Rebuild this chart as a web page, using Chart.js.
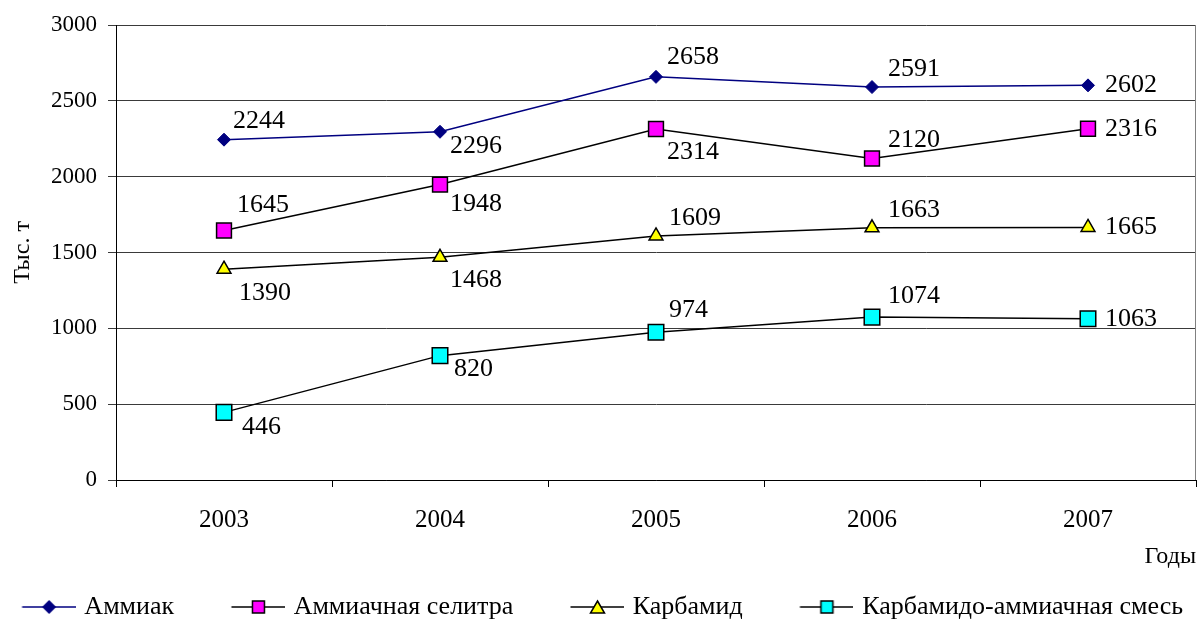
<!DOCTYPE html>
<html>
<head>
<meta charset="utf-8">
<script src="https://cdn.jsdelivr.net/npm/chart.js@4.4.1/dist/chart.umd.min.js"></script>
<style>
  html, body { margin: 0; padding: 0; background: #fff; overflow: hidden; }
  #wrap { width: 1200px; height: 619px; position: relative; }
</style>
</head>
<body>
<div id="wrap"><canvas id="myChart"></canvas></div>
<script>
// chart data
const years = ['2003', '2004', '2005', '2006', '2007'];
const ammonia = [2244, 2296, 2658, 2591, 2602];
const ammoniumNitrate = [1645, 1948, 2314, 2120, 2316];
const urea = [1390, 1468, 1609, 1663, 1665];
const uan = [446, 820, 974, 1074, 1063];
const seriesNames = ['Аммиак', 'Аммиачная селитра', 'Карбамид', 'Карбамидо-аммиачная смесь'];
const yTicks = [0, 500, 1000, 1500, 2000, 2500, 3000];

// where each value label sits relative to its point (dx, dy)
const labelOffsets = [
    [[9, -18], [10, 14], [11, -20], [16, -18], [17, 0]],
    [[13, -25], [10, 20], [11, 23], [16, -18], [17, 0]],
    [[15, 24], [10, 23], [13, -18], [16, -18], [17, 0]],
    [[18, 15], [14, 14], [13, -22], [16, -21], [17, 0]],
];

const FONT = '"Liberation Serif", "Times New Roman", serif';
const LEG_FONT = 26;
const LEG_GAP = 51.5;  // empty room on the left of each legend icon
const LEG_PAD = 10;
const LEFT_SHIFT = 38; // legend box is widened to the left by this much

// small line+marker picture for the legend
const legendIcon = (kind, fill, stroke, lineColor) => {
    const c = document.createElement('canvas');
    c.width = LEG_GAP + 54;
    c.height = 20;
    const ctx = c.getContext('2d');
    ctx.strokeStyle = lineColor;
    ctx.lineWidth = 1.5;
    ctx.beginPath();
    ctx.moveTo(LEG_GAP, 10);
    ctx.lineTo(LEG_GAP + 54, 10);
    ctx.stroke();
    const cx = LEG_GAP + 27, cy = 10;
    ctx.fillStyle = fill;
    ctx.strokeStyle = stroke;
    ctx.beginPath();
    if (kind === 'diamond') {
        ctx.moveTo(cx - 6, cy); ctx.lineTo(cx, cy - 6); ctx.lineTo(cx + 6, cy); ctx.lineTo(cx, cy + 6);
    } else if (kind === 'triangle') {
        ctx.moveTo(cx, cy - 6); ctx.lineTo(cx + 7, cy + 6); ctx.lineTo(cx - 7, cy + 6);
    } else {
        ctx.rect(cx - 6, cy - 6, 12, 12);
    }
    ctx.closePath();
    ctx.fill();
    ctx.stroke();
    return c;
};

const icons = [
    legendIcon('diamond', '#000080', '#000080', '#000080'),
    legendIcon('square', '#FF00FF', '#000', '#000'),
    legendIcon('triangle', '#FFFF00', '#000', '#000'),
    legendIcon('square', '#00FFFF', '#000', '#000'),
];

// value labels next to the points
const valueLabels = {
    id: 'valueLabels',
    afterDatasetsDraw(chart) {
        const ctx = chart.ctx;
        ctx.save();
        ctx.font = '26px ' + FONT;
        ctx.fillStyle = '#000';
        ctx.textAlign = 'left';
        ctx.textBaseline = 'middle';
        chart.data.datasets.forEach((ds, i) => {
            chart.getDatasetMeta(i).data.forEach((pt, j) => {
                const [dx, dy] = labelOffsets[i][j];
                ctx.fillText(String(ds.data[j]), pt.x + dx, pt.y + dy);
            });
        });
        ctx.restore();
    }
};

// thin frame line on the right side of the plot
const rightEdge = {
    id: 'rightEdge',
    beforeDatasetsDraw(chart) {
        const { ctx, chartArea } = chart;
        ctx.save();
        ctx.strokeStyle = '#808080';
        ctx.lineWidth = 1;
        ctx.beginPath();
        ctx.moveTo(Math.round(chartArea.right) - 0.5, chartArea.top);
        ctx.lineTo(Math.round(chartArea.right) - 0.5, chartArea.bottom);
        ctx.stroke();
        ctx.restore();
    }
};

const data = {
    labels: years,
    datasets: [
        {
            label: seriesNames[0],
            data: ammonia,
            borderColor: '#000080',
            borderWidth: 1.5,
            pointStyle: 'rectRot',
            pointRadius: 6.5,
            pointBackgroundColor: '#000080',
            pointBorderColor: '#000080',
            pointBorderWidth: 1,
        },
        {
            label: seriesNames[1],
            data: ammoniumNitrate,
            borderColor: '#000',
            borderWidth: 1.5,
            pointStyle: 'rect',
            pointRadius: 10.5,
            pointBackgroundColor: '#FF00FF',
            pointBorderColor: '#000',
            pointBorderWidth: 1.5,
        },
        {
            label: seriesNames[2],
            data: urea,
            borderColor: '#000',
            borderWidth: 1.5,
            pointStyle: 'triangle',
            pointRadius: 8,
            pointBackgroundColor: '#FFFF00',
            pointBorderColor: '#000',
            pointBorderWidth: 1.5,
        },
        {
            label: seriesNames[3],
            data: uan,
            borderColor: '#000',
            borderWidth: 1.5,
            pointStyle: 'rect',
            pointRadius: 11,
            pointBackgroundColor: '#00FFFF',
            pointBorderColor: '#000',
            pointBorderWidth: 1.5,
        },
    ],
};

const config = {
    type: 'line',
    data: data,
    plugins: [rightEdge, valueLabels],
    options: {
        responsive: true,
        maintainAspectRatio: false,
        animation: false,
        layout: {
            autoPadding: false,
            padding: { top: 25, right: 4, left: -LEFT_SHIFT, bottom: -11 },
        },
        elements: { line: { tension: 0 } },
        plugins: {
            tooltip: { enabled: false },
            legend: {
                position: 'bottom',
                labels: {
                    usePointStyle: true,
                    // box a bit narrower than the icon so the line ends close to the text
                    pointStyleWidth: LEG_GAP + 54 - 9,
                    padding: LEG_PAD,
                    color: '#000',
                    font: { size: LEG_FONT, family: FONT },
                    generateLabels: (chart) => chart.data.datasets.map((ds, i) => ({
                        text: ds.label,
                        pointStyle: icons[i],
                        fillStyle: 'transparent',
                        strokeStyle: 'transparent',
                        lineWidth: 0,
                        hidden: false,
                        datasetIndex: i,
                        fontColor: '#000',
                    })),
                },
            },
        },
        scales: {
            x: {
                offset: true,
                afterFit: (scale) => {
                    scale.height = 104;
                    scale.paddingLeft = 0;
                    scale.paddingRight = 0;
                },
                grid: {
                    offset: true,
                    drawOnChartArea: false,
                    drawTicks: true,
                    tickLength: 7,
                    color: '#000',
                },
                border: { display: true, color: '#000', width: 1 },
                ticks: {
                    color: '#000',
                    padding: 18,
                    font: { size: 25, family: FONT },
                },
                title: {
                    display: true,
                    text: 'Годы',
                    align: 'end',
                    color: '#000',
                    font: { size: 24, family: FONT },
                    padding: { top: 0, bottom: 12.6 },
                },
            },
            y: {
                min: 0,
                max: 3000,
                afterFit: (scale) => { scale.width = 116 + LEFT_SHIFT; },
                afterBuildTicks: (scale) => { scale.ticks = yTicks.map(v => ({ value: v })); },
                grid: {
                    color: '#3a3a3a',
                    lineWidth: 1,
                    drawTicks: true,
                    tickLength: 8,
                },
                border: { display: true, color: '#000', width: 1 },
                ticks: {
                    color: '#000',
                    padding: 11,
                    font: { size: 23, family: FONT },
                    callback: (v) => String(v),
                },
                title: {
                    display: true,
                    text: 'Тыс. т',
                    color: '#000',
                    font: { size: 24, family: FONT },
                    padding: { top: 8 + LEFT_SHIFT, bottom: 0 },
                },
            },
        },
    },
};

new Chart(document.getElementById('myChart'), config);
</script>
</body>
</html>
